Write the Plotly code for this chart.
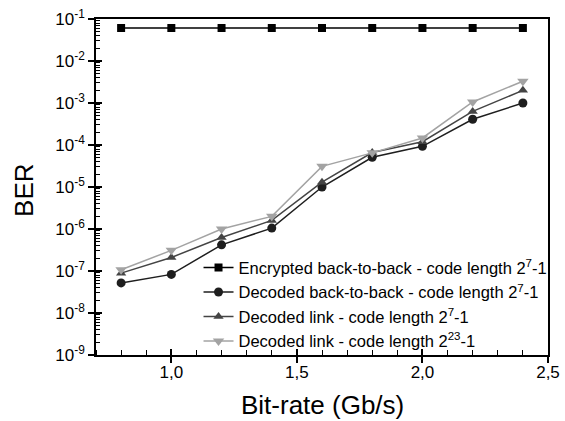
import plotly.graph_objects as go

bit_rate = [0.8, 1.0, 1.2, 1.4, 1.6, 1.8, 2.0, 2.2, 2.4]
ber_encrypted_b2b = [0.061, 0.061, 0.061, 0.061, 0.061, 0.061, 0.061, 0.061, 0.061]
ber_decoded_b2b = [5.2e-8, 8.3e-8, 4.2e-7, 1.05e-6, 1.0e-5, 5.1e-5, 9.3e-5, 4.1e-4, 1.0e-3]
ber_decoded_link_7 = [8.9e-8, 2.1e-7, 6.3e-7, 1.6e-6, 1.3e-5, 6.6e-5, 1.2e-4, 6.3e-4, 2.0e-3]
ber_decoded_link_23 = [1.07e-7, 3.1e-7, 1.0e-6, 2.0e-6, 3.1e-5, 6.5e-5, 1.47e-4, 1.06e-3, 3.3e-3]

names = [
    "Encrypted back-to-back - code length 2<sup>7</sup>-1",
    "Decoded back-to-back - code length 2<sup>7</sup>-1",
    "Decoded link - code length 2<sup>7</sup>-1",
    "Decoded link - code length 2<sup>23</sup>-1",
]
series = [ber_encrypted_b2b, ber_decoded_b2b, ber_decoded_link_7, ber_decoded_link_23]
colors = ["#000000", "#1e1e1e", "#444444", "#a3a3a3"]
symbols = ["square", "circle", "triangle-up", "triangle-down"]
sizes = [8, 9, 9, 10]

x_tickvals = [1.0, 1.5, 2.0, 2.5]
x_ticktext = ["1,0", "1,5", "2,0", "2,5"]
y_exponents = list(range(-9, 0))
y_tickvals = [10.0 ** e for e in y_exponents]
y_ticktext = ["10<sup>%d</sup>" % e for e in y_exponents]
y_minor = [k * 10.0 ** e for e in range(-9, -1) for k in range(2, 10)]
x_minor = [round(0.7 + 0.1 * i, 1) for i in range(19)]

x_title = "Bit-rate (Gb/s)"
y_title = "BER"

FONT = "Liberation Sans, Arial, sans-serif"

fig = go.Figure()
for name, ys, c, s, sz in zip(names, series, colors, symbols, sizes):
    fig.add_trace(go.Scatter(
        x=bit_rate, y=ys, name=name, mode="lines+markers",
        line=dict(color=c, width=1.5),
        marker=dict(symbol=s, size=sz, color=c),
    ))

axis_common = dict(showgrid=False, zeroline=False, linecolor="black", linewidth=1.5,
                   tickcolor="black", tickwidth=1.5, automargin=False)

fig.update_layout(
    width=565, height=421,
    margin=dict(l=96, r=14, t=19, b=66),
    paper_bgcolor="white", plot_bgcolor="white",
    font=dict(family=FONT, color="black", size=16),
    xaxis=dict(
        range=[0.7, 2.5], tickmode="array", tickvals=x_tickvals, ticktext=x_ticktext,
        ticks="outside", ticklen=6, mirror=True, ticklabelstandoff=-5,
        tickfont=dict(size=17),
        minor=dict(tickmode="array", tickvals=x_minor, ticks="inside", ticklen=5,
                   tickcolor="black", tickwidth=1.2),
        **axis_common,
    ),
    yaxis=dict(
        type="log", range=[-9, -1], tickmode="array", tickvals=y_tickvals, ticktext=y_ticktext,
        ticks="outside", ticklen=6, mirror=True,
        tickfont=dict(size=17),
        minor=dict(tickmode="array", tickvals=y_minor, ticks="inside", ticklen=4,
                   tickcolor="black", tickwidth=1),
        **axis_common,
    ),
    xaxis2=dict(overlaying="x", range=[0.7, 2.5], tickmode="array", tickvals=x_tickvals,
                ticks="inside", ticklen=6, tickcolor="black", tickwidth=1.5,
                showticklabels=False, showline=False, showgrid=False, zeroline=False),
    yaxis2=dict(overlaying="y", type="log", range=[-9, -1], tickmode="array",
                tickvals=y_tickvals, ticks="inside", ticklen=6, tickcolor="black",
                tickwidth=1.5, showticklabels=False, showline=False, showgrid=False,
                zeroline=False),
    legend=dict(
        x=1.01, xanchor="right", y=-0.01, yanchor="bottom",
        bgcolor="rgba(0,0,0,0)", borderwidth=0,
        font=dict(size=16.5), tracegroupgap=0, itemwidth=30,
    ),
    showlegend=True,
    annotations=[
        dict(text=x_title, xref="paper", yref="paper", x=0.5, y=-0.098,
             xanchor="center", yanchor="top", showarrow=False, font=dict(size=26)),
        dict(text=y_title, xref="paper", yref="paper", x=-0.158, y=0.49,
             xanchor="center", yanchor="middle", showarrow=False, textangle=-90,
             font=dict(size=26)),
    ],
)
# invisible trace so overlay axes are rendered
fig.add_trace(go.Scatter(x=[None], y=[None], xaxis="x2", yaxis="y2", showlegend=False,
                         hoverinfo="skip"))

fig.write_html("out.html")
